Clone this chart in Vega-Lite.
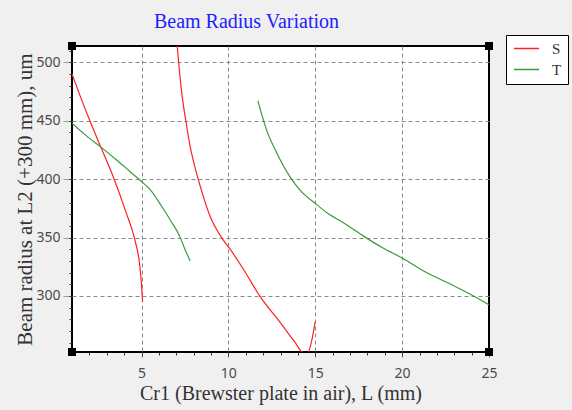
{
  "$schema": "https://vega.github.io/schema/vega-lite/v6.json",
  "width": 417,
  "height": 306,
  "autosize": {"type": "none"},
  "padding": {"left": 72, "top": 46, "right": 83, "bottom": 58},
  "background": "#f0f0f0",
  "title": {"text": "Beam Radius Variation", "font": "Liberation Serif", "fontSize": 20, "fontWeight": "normal", "color": "#2020ff", "anchor": "middle", "frame": "group", "dx": -34, "dy": 27, "baseline": "alphabetic", "offset": 14},
  "config": {
    "view": {"fill": "white", "stroke": "black", "strokeWidth": 2},
    "axis": {"domain": false, "labelFlush": false, "labelFont": "Noto Sans", "labelFontSize": 14, "labelColor": "#4a4a4a", "titleFont": "Liberation Serif", "titleFontSize": 20, "titleFontWeight": "normal", "titleColor": "#333333", "gridColor": "#8a8a8a", "gridDash": [4, 3], "gridWidth": 1, "tickColor": "#666666"}
  },
  "datasets": {
    "curves": [
      {"series": "S", "seg": "S1", "x": 1.0, "y": 490},
      {"series": "S", "seg": "S1", "x": 1.5, "y": 470},
      {"series": "S", "seg": "S1", "x": 2.0, "y": 451},
      {"series": "S", "seg": "S1", "x": 2.7, "y": 426},
      {"series": "S", "seg": "S1", "x": 3.4, "y": 401},
      {"series": "S", "seg": "S1", "x": 4.1, "y": 372},
      {"series": "S", "seg": "S1", "x": 4.6, "y": 349},
      {"series": "S", "seg": "S1", "x": 4.9, "y": 326},
      {"series": "S", "seg": "S1", "x": 5.0, "y": 310},
      {"series": "S", "seg": "S1", "x": 5.06, "y": 295},
      {"series": "S", "seg": "S2", "x": 7.05, "y": 515},
      {"series": "S", "seg": "S2", "x": 7.2, "y": 490},
      {"series": "S", "seg": "S2", "x": 7.35, "y": 470},
      {"series": "S", "seg": "S2", "x": 7.55, "y": 450},
      {"series": "S", "seg": "S2", "x": 7.8, "y": 428},
      {"series": "S", "seg": "S2", "x": 8.17, "y": 405},
      {"series": "S", "seg": "S2", "x": 8.4, "y": 393},
      {"series": "S", "seg": "S2", "x": 8.9, "y": 370},
      {"series": "S", "seg": "S2", "x": 9.7, "y": 348},
      {"series": "S", "seg": "S2", "x": 10.1, "y": 340},
      {"series": "S", "seg": "S2", "x": 10.9, "y": 322},
      {"series": "S", "seg": "S2", "x": 11.8, "y": 300},
      {"series": "S", "seg": "S2", "x": 13.0, "y": 277},
      {"series": "S", "seg": "S2", "x": 13.8, "y": 261},
      {"series": "S", "seg": "S2", "x": 14.35, "y": 251},
      {"series": "S", "seg": "S2", "x": 14.55, "y": 251},
      {"series": "S", "seg": "S2", "x": 14.8, "y": 262},
      {"series": "S", "seg": "S2", "x": 15.0, "y": 278},
      {"series": "T", "seg": "T1", "x": 1.0, "y": 448},
      {"series": "T", "seg": "T1", "x": 1.8, "y": 437.5},
      {"series": "T", "seg": "T1", "x": 2.7, "y": 427},
      {"series": "T", "seg": "T1", "x": 3.6, "y": 416},
      {"series": "T", "seg": "T1", "x": 4.3, "y": 407},
      {"series": "T", "seg": "T1", "x": 5.0, "y": 398},
      {"series": "T", "seg": "T1", "x": 5.5, "y": 391},
      {"series": "T", "seg": "T1", "x": 6.15, "y": 377},
      {"series": "T", "seg": "T1", "x": 6.7, "y": 364},
      {"series": "T", "seg": "T1", "x": 7.2, "y": 351},
      {"series": "T", "seg": "T1", "x": 7.5, "y": 340},
      {"series": "T", "seg": "T1", "x": 7.8, "y": 330},
      {"series": "T", "seg": "T2", "x": 11.7, "y": 467},
      {"series": "T", "seg": "T2", "x": 12.2, "y": 442},
      {"series": "T", "seg": "T2", "x": 12.8, "y": 422},
      {"series": "T", "seg": "T2", "x": 13.55, "y": 402},
      {"series": "T", "seg": "T2", "x": 14.1, "y": 391},
      {"series": "T", "seg": "T2", "x": 15.1, "y": 378},
      {"series": "T", "seg": "T2", "x": 15.7, "y": 371},
      {"series": "T", "seg": "T2", "x": 16.8, "y": 361},
      {"series": "T", "seg": "T2", "x": 17.8, "y": 351},
      {"series": "T", "seg": "T2", "x": 18.9, "y": 341},
      {"series": "T", "seg": "T2", "x": 20.0, "y": 332.5},
      {"series": "T", "seg": "T2", "x": 21.4, "y": 320},
      {"series": "T", "seg": "T2", "x": 22.8, "y": 310},
      {"series": "T", "seg": "T2", "x": 24.1, "y": 300},
      {"series": "T", "seg": "T2", "x": 25.0, "y": 292.5}
    ],
    "corners": [
      {"x": 1, "y": 252},
      {"x": 1, "y": 514},
      {"x": 25, "y": 252},
      {"x": 25, "y": 514}
    ]
  },
  "layer": [
    {
      "data": {"name": "curves"},
      "mark": {"type": "line", "strokeWidth": 1.2, "clip": true, "interpolate": "monotone"},
      "encoding": {
        "x": {"field": "x", "type": "quantitative", "scale": {"domain": [1, 25], "nice": false, "zero": false},
          "axis": {"orient": "bottom", "values": [5, 10, 15, 20, 25], "grid": true, "gridOpacity": {"condition": {"test": "datum.value == 25", "value": 0}, "value": 1}, "tickSize": 5, "labelPadding": 9, "title": "Cr1 (Brewster plate in air), L (mm)", "titleBaseline": "alphabetic", "titleY": 47}},
        "y": {"field": "y", "type": "quantitative", "scale": {"domain": [252, 514], "nice": false, "zero": false},
          "axis": {"orient": "left", "values": [300, 350, 400, 450, 500], "grid": true, "tickSize": 9, "tickColor": "#999999", "labelPadding": 3, "title": "Beam radius at L2 (+300 mm), um", "titleFontSize": 21, "titleAngle": 270, "titleBaseline": "alphabetic", "titleX": -41, "titleY": 153}},
        "color": {"field": "series", "type": "nominal", "scale": {"domain": ["S", "T"], "range": ["#ff2020", "#3a9a3a"]},
          "legend": {"orient": "none", "legendX": 434, "legendY": -11, "title": null, "symbolType": "M-2,0H2", "symbolSize": 156, "symbolOffset": 7, "symbolStrokeWidth": 1.5, "symbolFillColor": "transparent", "labelFont": "Liberation Serif", "labelFontSize": 15, "labelColor": "#333333", "labelOffset": 18, "padding": 6, "rowPadding": 5, "strokeColor": "black", "fillColor": "white", "cornerRadius": 0}},
        "detail": {"field": "seg", "type": "nominal"}
      }
    },
    {
      "data": {"name": "corners"},
      "mark": {"type": "point", "shape": "square", "filled": true, "color": "black", "size": 64, "opacity": 1},
      "encoding": {
        "x": {"field": "x", "type": "quantitative",
          "axis": {"orient": "bottom", "values": [1,2,3,4,5,6,7,8,9,10,11,12,13,14,15,16,17,18,19,20,21,22,23,24,25], "labels": false, "grid": false, "tickSize": 3, "tickColor": "#333333", "title": null}},
        "y": {"field": "y", "type": "quantitative",
          "axis": {"orient": "left", "values": [260,270,280,290,300,310,320,330,340,350,360,370,380,390,400,410,420,430,440,450,460,470,480,490,500,510], "labels": false, "grid": false, "tickSize": 3, "tickColor": "#333333", "title": null}}
      }
    }
  ],
  "resolve": {"axis": {"x": "independent", "y": "independent"}}
}
